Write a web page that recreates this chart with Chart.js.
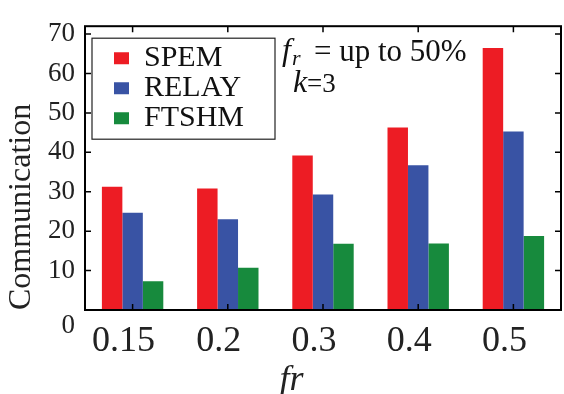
<!DOCTYPE html>
<html><head><meta charset="utf-8">
<script src="https://cdn.jsdelivr.net/npm/chart.js@4/dist/chart.umd.min.js"></script>
<style>html,body{margin:0;padding:0;background:#fff;}</style>
</head><body>
<canvas id="c" width="564" height="394"></canvas>
<script>
const categories = ['0.15', '0.2', '0.3', '0.4', '0.5'];
const spem  = [31.3, 30.8, 39.2, 46.3, 66.5];
const relay = [24.7, 23.0, 29.3, 36.7, 45.3];
const ftshm = [7.3, 10.7, 16.8, 16.9, 18.8];
const seriesNames = ['SPEM', 'RELAY', 'FTSHM'];
const seriesColors = ['#ed1c24', '#3953a4', '#178a3d'];
const yMin = 0, yMax = 72, yStep = 10;
const xTitle = 'fr';
const yTitle = 'Communication';

const SERIF = "'Liberation Serif', 'DejaVu Serif', serif";

const framePlugin = {
  id: 'frame',
  beforeDraw(chart) {
    const lg = chart.legend, a = chart.chartArea;
    if (!lg) return;
    lg.left = a.left + 29;
    lg.top = a.top + 17;
    lg.right = lg.left + lg.width;
    lg.bottom = a.bottom;
  },
  afterDraw(chart) {
    const {ctx, chartArea: a, scales: {x, y}} = chart;
    ctx.save();
    // legend frame
    const lg = chart.legend;
    ctx.strokeStyle = '#222';
    ctx.lineWidth = 1.2;
    ctx.strokeRect(lg.left - 22, lg.top - 5, 183, 101);
    // plot frame
    ctx.strokeStyle = '#000';
    ctx.lineWidth = 2;
    ctx.strokeRect(a.left, a.top, a.right - a.left, a.bottom - a.top);
    // inward tick marks
    ctx.lineWidth = 1.5;
    const L = 6;
    ctx.beginPath();
    y.ticks.forEach((t, i) => {
      const py = y.getPixelForTick(i);
      ctx.moveTo(a.left, py); ctx.lineTo(a.left + L, py);
      ctx.moveTo(a.right, py); ctx.lineTo(a.right - L, py);
    });
    x.ticks.forEach((t, i) => {
      const px = x.getPixelForTick(i);
      ctx.moveTo(px, a.top); ctx.lineTo(px, a.top + L);
      ctx.moveTo(px, a.bottom); ctx.lineTo(px, a.bottom - L);
    });
    ctx.stroke();
    // annotation text
    ctx.fillStyle = '#111';
    ctx.textBaseline = 'alphabetic';
    ctx.textAlign = 'left';
    ctx.font = 'italic 32px ' + SERIF;
    ctx.fillText('f', a.left + 197, a.top + 34);
    ctx.font = 'italic 22px ' + SERIF;
    ctx.fillText('r', a.left + 207, a.top + 39);
    ctx.font = '31px ' + SERIF;
    ctx.fillText('= up to 50%', a.left + 229, a.top + 35);
    ctx.font = 'italic 32px ' + SERIF;
    ctx.fillText('k', a.left + 208, a.top + 66);
    ctx.font = '27px ' + SERIF;
    ctx.fillText('=3', a.left + 222, a.top + 66);
    ctx.restore();
  }
};

new Chart(document.getElementById('c'), {
  type: 'bar',
  data: {
    labels: categories,
    datasets: [
      {label: seriesNames[0], data: spem,  backgroundColor: seriesColors[0], borderWidth: 0},
      {label: seriesNames[1], data: relay, backgroundColor: seriesColors[1], borderWidth: 0},
      {label: seriesNames[2], data: ftshm, backgroundColor: seriesColors[2], borderWidth: 0}
    ]
  },
  options: {
    responsive: false,
    animation: false,
    devicePixelRatio: 1,
    layout: {padding: {top: 13, right: 3, left: 0, bottom: 0}},
    datasets: {bar: {categoryPercentage: 0.645, barPercentage: 1.0}},
    plugins: {
      legend: {
        position: 'chartArea',
        align: 'start',
        labels: {
          boxWidth: 15, boxHeight: 12, padding: 0,
          color: '#111',
          font: {family: SERIF, size: 30}
        }
      },
      tooltip: {enabled: false}
    },
    scales: {
      x: {
        grid: {display: false, drawTicks: false},
        border: {display: false},
        ticks: {
          color: '#222', padding: 10, labelOffset: -9,
          font: {family: SERIF, size: 36}
        },
        title: {
          display: true, text: xTitle + '       ',
          color: '#222',
          font: {family: SERIF, size: 36, style: 'italic', lineHeight: 1},
          padding: {top: 0, bottom: -5}
        },
        afterFit: s => { s.height = 84; }
      },
      y: {
        min: yMin, max: yMax,
        grid: {display: false, drawTicks: false},
        border: {display: false},
        ticks: {
          stepSize: yStep, includeBounds: false, autoSkip: false,
          color: '#222', padding: 10,
          font: {family: SERIF, size: 27},
          callback: v => v === 0 ? ['', '0'] : String(v)
        },
        title: {
          display: true, text: yTitle, align: 'start',
          color: '#222',
          font: {family: SERIF, size: 32},
          padding: {top: 2, bottom: 0}
        },
        afterFit: s => { s.width = 85; }
      }
    }
  },
  plugins: [framePlugin]
});
</script>
</body></html>
